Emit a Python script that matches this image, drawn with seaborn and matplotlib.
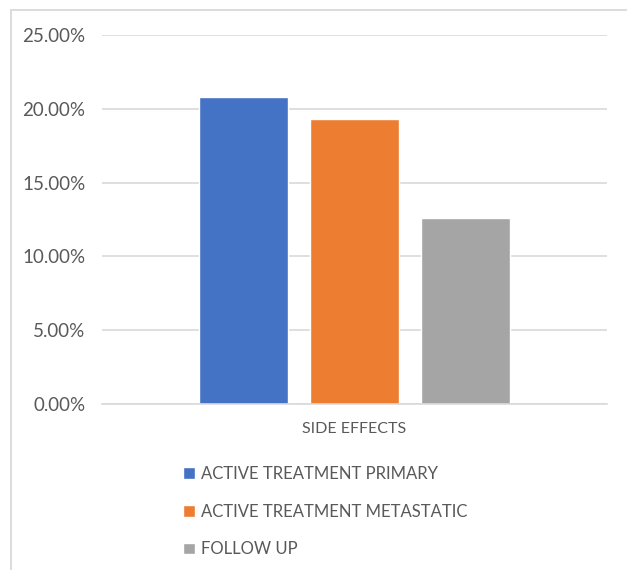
import matplotlib
matplotlib.use("Agg")
import matplotlib.pyplot as plt
import matplotlib.ticker as mticker
from matplotlib.lines import Line2D
import seaborn as sns
import pandas as pd

# Data
category = ["SIDE EFFECTS"]
series = ["ACTIVE TREATMENT PRIMARY", "ACTIVE TREATMENT METASTATIC", "FOLLOW UP"]
values = [0.208, 0.193, 0.126]
colors = ["#4472C4", "#ED7D31", "#A5A5A5"]
y_ticks = [0.0, 0.05, 0.10, 0.15, 0.20, 0.25]

df = pd.DataFrame({
    "category": category * len(series),
    "series": series,
    "value": values,
})

sns.set_theme(style="white")
plt.rcParams["font.family"] = ["Lato", "DejaVu Sans"]

text_color = "#595959"
grid_color = "#D9D9D9"

W, H = 627, 570
fig = plt.figure(figsize=(W / 100, H / 100), dpi=100)
ax = fig.add_axes([102 / W, 1 - 404 / H, (607 - 102) / W, (404 - 35) / H])

sns.barplot(
    data=df, x="category", y="value", hue="series",
    hue_order=series, palette=colors, width=0.66, gap=0.2,
    saturation=1, ax=ax, legend=True,
)

ax.set_ylim(0, 0.25)
ax.set_xlim(-0.5, 0.5)
ax.set_yticks(y_ticks)
ax.yaxis.set_major_formatter(mticker.FuncFormatter(lambda v, _: f"{v * 100:.2f}%"))
ax.set_axisbelow(True)
ax.yaxis.grid(True, color=grid_color, linewidth=1.2)
ax.xaxis.grid(False)
for side in ["left", "right", "top"]:
    ax.spines[side].set_visible(False)
ax.spines["bottom"].set_color(grid_color)
ax.spines["bottom"].set_linewidth(1.2)
ax.tick_params(axis="y", length=0, pad=12, labelsize=13.5, labelcolor=text_color)
ax.tick_params(axis="x", length=0, pad=13, labelsize=11.5, labelcolor=text_color)
ax.set_xlabel("")
ax.set_ylabel("")

# Legend stacked below the plot
sns.move_legend(
    ax, "upper left", bbox_to_anchor=(183 / W, 1 - 466 / H),
    bbox_transform=fig.transFigure, frameon=False, title=None,
    fontsize=12, handlelength=0.72, handleheight=0.72, handletextpad=0.35,
    labelspacing=1.3, borderpad=0, borderaxespad=0,
)
for t in ax.get_legend().get_texts():
    t.set_color(text_color)

# Chart area border
fig.add_artist(Line2D([11 / W, 11 / W], [0, 1 - 10 / H], transform=fig.transFigure,
                      color=grid_color, linewidth=1.3))
fig.add_artist(Line2D([11 / W, 1], [1 - 10 / H, 1 - 10 / H], transform=fig.transFigure,
                      color=grid_color, linewidth=1.3))

fig.savefig("out.png", dpi=100, facecolor="white")
